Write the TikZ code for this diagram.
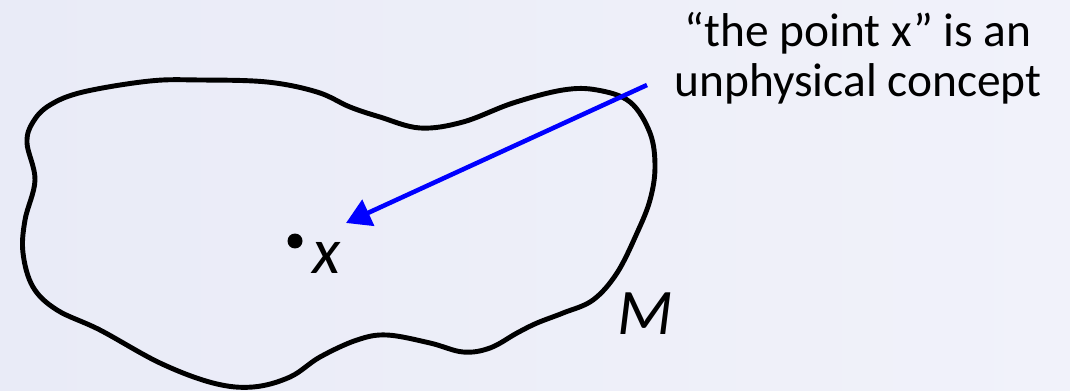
\documentclass[tikz,border=0pt]{standalone}
\usepackage{fontspec}
\setmainfont{Carlito}
\usetikzlibrary{arrows.meta}
\definecolor{slidebg}{RGB}{241,242,250}
\definecolor{slidebgl}{RGB}{233,235,247}
\definecolor{pointerblue}{RGB}{0,0,255}
\begin{document}
\begin{tikzpicture}[x=0.02cm, y=-0.02cm,
  outline/.style={draw=black, line width=2.8pt, line join=round},
  pointer/.style={draw=pointerblue, line width=2.6pt, -{Triangle[length=14pt, width=16pt]}},
  symb/.style={font=\fontsize{37}{40}\selectfont\itshape, inner sep=0pt}]
  % background
  \shade[left color=slidebgl, right color=slidebg] (0,0) rectangle (1070,391);
  \useasboundingbox (0,0) rectangle (1070,391);
  % the region M
  \draw[outline] plot[smooth cycle, tension=0.6] coordinates {
    (27,143) (33,122) (50,105) (83,92) (150,81) (200,80) (267,82) (317,92)
    (350,107) (380,117) (420,128) (463,122) (513,103) (563,90) (597,90)
    (630,102) (650,133) (655,167) (650,200) (637,233) (617,273) (593,300)
    (563,313) (537,323) (517,333) (490,348) (463,352) (430,343) (387,335)
    (357,340) (320,357) (290,377) (253,387) (213,383) (160,363) (100,330)
    (57,310) (33,287) (23,253) (25,220) (35,180)};
  \node[circle, fill=black, inner sep=0pt, minimum size=0.3cm] (pt) at (295,241) {};
  \node[symb] (xlabel) at (327,258) {x};
  \node[symb] (mlabel) at (645,314) {M};
  \node[align=center, anchor=base, font=\fontsize{27}{28.5}\selectfont] (note) at (858,97) {“the point x” is an\\unphysical concept};
  \coordinate (tail) at (647,85);
  \coordinate (head) at (346,223);
  \draw[pointer] (tail) -- (head);
\end{tikzpicture}
\end{document}
